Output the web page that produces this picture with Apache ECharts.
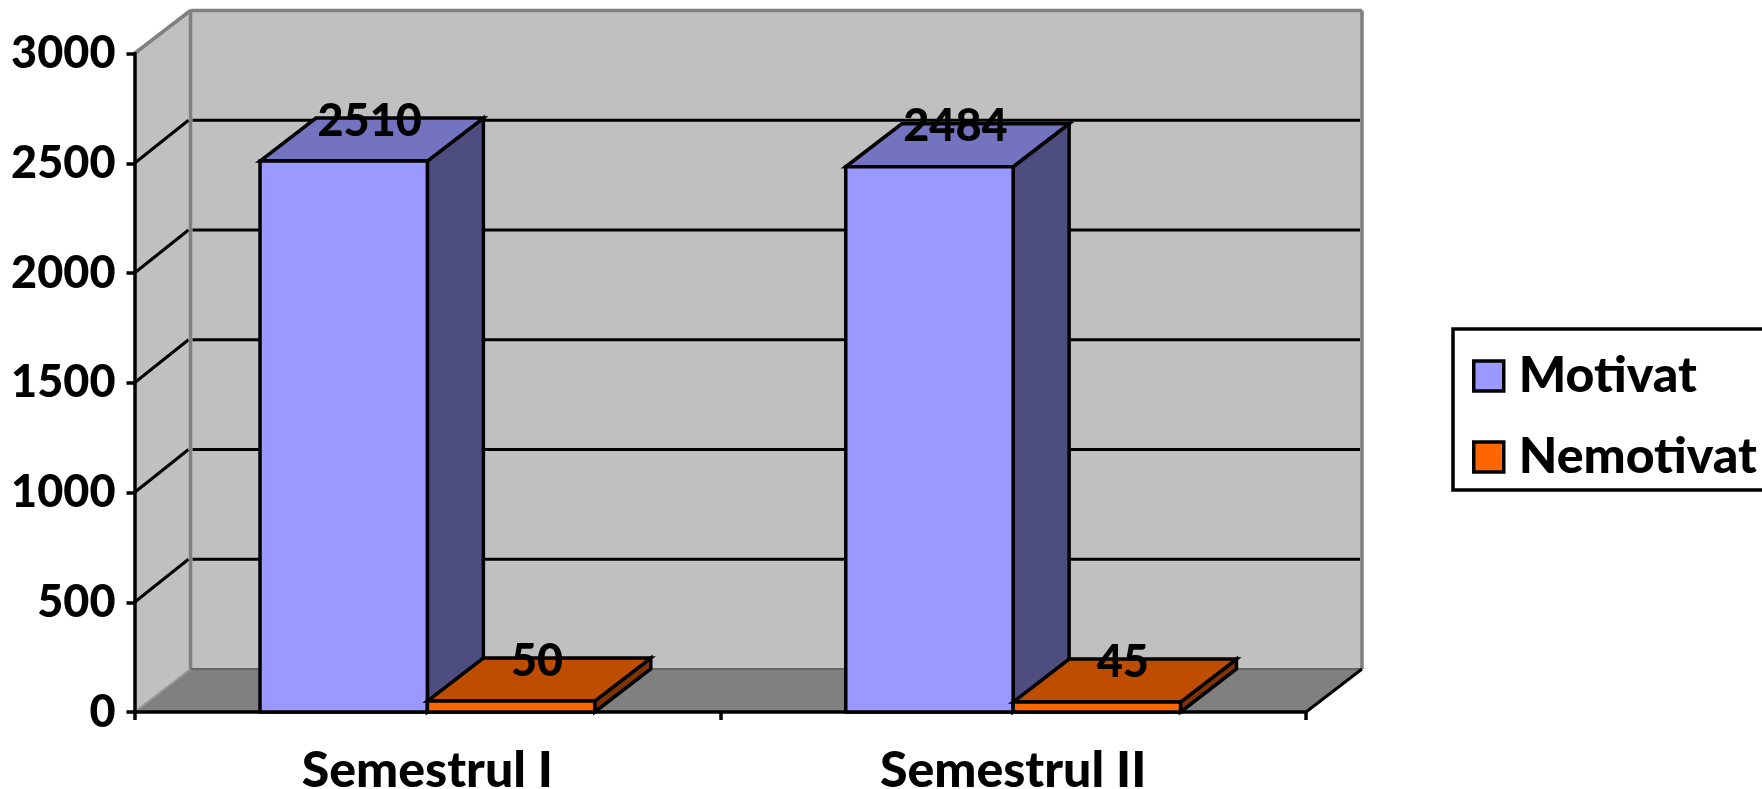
<!DOCTYPE html>
<html><head><meta charset="utf-8">
<style>html,body{margin:0;padding:0;background:#fff;overflow:hidden}#c{width:1762px;height:789px}</style>
<script src="https://cdn.jsdelivr.net/npm/echarts@6/dist/echarts.min.js"></script>
</head><body><div id="c"></div>
<script>
const categories = ['Semestrul I', 'Semestrul II'];
const motivat = [2510, 2484];
const nemotivat = [50, 45];
const yTicks = [0, 500, 1000, 1500, 2000, 2500, 3000];

const DX = 56, DY = -43, BDX = 56, BDY = -43;
const FONT = 'Lato';
const chart = echarts.init(document.getElementById('c'), null, {renderer: 'canvas'});

function poly(points, fill, stroke, lw, z2) {
  return {type: 'polygon', shape: {points}, z2: z2 || 0,
    style: {fill, stroke: stroke || null, lineWidth: lw || 0, lineJoin: 'miter'}};
}
function line(a, b, stroke, lw, z2) {
  return {type: 'line', shape: {x1: a[0], y1: a[1], x2: b[0], y2: b[1]}, z2: z2 || 0,
    style: {stroke, lineWidth: lw, fill: null}};
}

function renderWalls(params, api) {
  const cs = params.coordSys;
  const L = cs.x, R = cs.x + cs.width, B = cs.y + cs.height, T = cs.y;
  const kids = [];
  kids.push(poly([[L + DX, T + DY], [R + DX, T + DY], [R + DX, B + DY], [L + DX, B + DY]], '#c0c0c0'));
  kids.push(poly([[L, T], [L + DX, T + DY], [L + DX, B + DY], [L, B]], '#c0c0c0'));
  kids.push(poly([[L, B], [L + DX, B + DY], [R + DX, B + DY], [R, B]], '#808080'));
  yTicks.forEach(v => {
    const y = api.coord([0, v])[1];
    if (v > 0 && v < yTicks[yTicks.length - 1]) {
      kids.push(line([L, y], [L + DX - 2, y + DY], '#000', 3, 1));
      kids.push(line([L + DX + 2, y + DY], [R + DX - 2, y + DY], '#000', 3, 1));
    }
  });
  kids.push(line([L, T], [L + DX, T + DY], '#808080', 3.5, 2));
  kids.push(line([L + DX, T + DY], [R + DX, T + DY], '#808080', 3.5, 2));
  kids.push(line([L + DX, T + DY], [L + DX, B + DY], '#808080', 3.5, 2));
  kids.push(line([R + DX, T + DY], [R + DX, B + DY], '#808080', 3.5, 2));
  kids.push(line([L + DX, B + DY], [R + DX, B + DY], '#666666', 2, 2));
  kids.push(line([L, B], [L + DX, B + DY], '#9a9a9a', 2, 2));
  kids.push(line([R, B], [R + DX, B + DY], '#000', 3, 2));
  return {type: 'group', children: kids};
}

function makeBar(sign, front, top, side) {
  return function (params, api) {
    const idx = api.value(0), val = api.value(1);
    const p = api.coord([idx, val]), p0 = api.coord([idx, 0]);
    const w = api.size([1, 0])[0] / 3.5;
    const x1 = sign < 0 ? p[0] - w : p[0], x2 = x1 + w;
    const yT = p[1], yB = p0[1];
    const cx = (x1 + x2) / 2;
    const S = '#000', LW = 3.5;
    return {type: 'group', children: [
      poly([[x2, yB], [x2 + BDX, yB + BDY], [x2 + BDX, yT + BDY], [x2, yT]], side, S, LW),
      poly([[x1, yT], [x1 + BDX, yT + BDY], [x2 + BDX, yT + BDY], [x2, yT]], top, S, LW),
      poly([[x1, yB], [x2, yB], [x2, yT], [x1, yT]], front, S, LW),
      {type: 'text', z2: 50, style: {
        text: String(val), x: cx + 26, y: yT - 40, align: 'center', verticalAlign: 'middle',
        fill: '#000', font: '900 45px ' + FONT}}
    ]};
  };
}

const seriesData = arr => arr.map((v, i) => [i, v]);

chart.setOption({
  animation: false,
  backgroundColor: '#fff',
  grid: {left: 134.5, top: 53.5, width: 1171.5, height: 658.5, outerBoundsMode: 'none'},
  xAxis: {
    type: 'category', data: categories, boundaryGap: true,
    axisLine: {show: true, lineStyle: {color: '#000', width: 3.5}},
    axisTick: {show: true, alignWithLabel: false, length: 8, lineStyle: {color: '#000', width: 3.5}},
    axisLabel: {color: '#000', fontFamily: FONT, fontWeight: 900, fontSize: 50, margin: 34}
  },
  yAxis: {
    type: 'value', min: 0, max: 3000, interval: 500,
    axisLine: {show: true, lineStyle: {color: '#000', width: 3.5}},
    axisTick: {show: true, length: 8, lineStyle: {color: '#000', width: 3.5}},
    splitLine: {show: false},
    axisLabel: {color: '#000', fontFamily: FONT, fontWeight: 900, fontSize: 45, margin: 19,
      formatter: v => String(v), padding: [15, 0, 0, 0]}
  },
  legend: {
    left: 1453, top: 329, orient: 'vertical', selectedMode: false,
    data: [{name: 'Motivat', icon: 'rect'}, {name: 'Nemotivat', icon: 'rect'}],
    itemWidth: 30, itemHeight: 30, itemGap: 31, padding: [22, 40, 8, 19],
    borderColor: '#000', borderWidth: 3.5, backgroundColor: '#fff',
    itemStyle: {borderColor: '#000', borderWidth: 3.5},
    textStyle: {color: '#000', fontFamily: FONT, fontWeight: 900, fontSize: 50, lineHeight: 30, padding: [0, 0, 0, 10]}
  },
  series: [
    {type: 'custom', name: 'walls', z: -1, silent: true, clip: false, data: [[0, 0]], renderItem: renderWalls},
    {type: 'custom', name: 'Motivat', z: 3, silent: true, clip: false, itemStyle: {color: '#9999ff'},
      data: seriesData(motivat), encode: {x: 0, y: 1},
      renderItem: makeBar(-1, '#9999ff', '#7373bf', '#4d4d80')},
    {type: 'custom', name: 'Nemotivat', z: 4, silent: true, clip: false, itemStyle: {color: '#ff6600'},
      data: seriesData(nemotivat), encode: {x: 0, y: 1},
      renderItem: makeBar(1, '#ff6600', '#bf4d00', '#803300')}
  ]
});
</script></body></html>
